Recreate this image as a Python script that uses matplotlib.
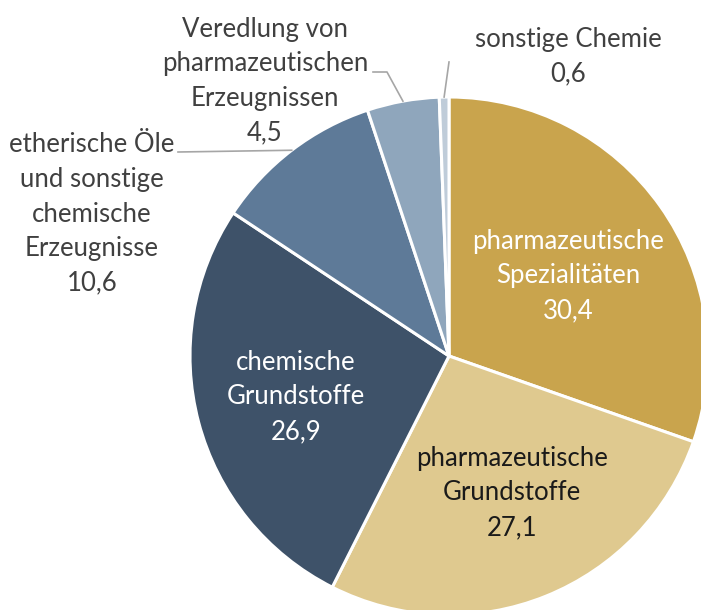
import numpy as np
import matplotlib.pyplot as plt

plt.rcParams['font.family'] = ['Lato', 'DejaVu Sans']

# Données
categories = ['pharmazeutische\nSpezialitäten', 'pharmazeutische\nGrundstoffe', 'chemische\nGrundstoffe',
              'etherische Öle\nund sonstige\nchemische\nErzeugnisse', 'Veredlung von\npharmazeutischen\nErzeugnissen',
              'sonstige Chemie']
valeurs = [30.4, 27.1, 26.9, 10.6, 4.5, 0.6]
couleurs = ['#C9A44D', '#DFC98F', '#3E5269', '#5E7A98', '#8FA6BC', '#BFCCD9']

W, H = 701, 610
cx, cy, r = 449, H - 356, 259

fig = plt.figure(figsize=(W / 100, H / 100), dpi=100)
ax = fig.add_axes([0, 0, 1, 1])

wedges, _ = ax.pie(valeurs, colors=couleurs, startangle=90, counterclock=False,
                   center=(cx, cy), radius=r, normalize=True,
                   wedgeprops=dict(edgecolor='white', linewidth=2.2))
ax.set_xlim(0, W)
ax.set_ylim(0, H)
ax.set_aspect('equal')
ax.axis('off')

def fmt(v):
    return f'{v:.1f}'.replace('.', ',')

taille = 18.5
esp = 1.48
# étiquettes à l'intérieur
interieur = {0: ((568, 276), 'white'), 1: ((512, 493), '#1A1A1A'), 2: ((296, 397), 'white')}
for i, ((x, y), c) in interieur.items():
    ax.text(x, H - y, categories[i] + '\n' + fmt(valeurs[i]), ha='center', va='center',
            fontsize=taille, color=c, linespacing=esp)

# étiquettes à l'extérieur
exterieur = {3: (92, 214), 4: (265, 81), 5: (568, 57)}
for i, (x, y) in exterieur.items():
    ax.text(x, H - y, categories[i] + '\n' + fmt(valeurs[i]), ha='center', va='center',
            fontsize=taille, color='#404040', linespacing=esp)

# lignes de rappel
gris = '#A6A6A6'
def point_bord(i):
    w = wedges[i]
    a = np.deg2rad((w.theta1 + w.theta2) / 2)
    return cx + r * np.cos(a), cy + r * np.sin(a)

x3, y3 = point_bord(3)
ax.plot([178, x3], [H - 152, y3], color=gris, lw=1.2)
x4, y4 = point_bord(4)
ax.plot([373, 387, x4], [H - 72, H - 72, y4], color=gris, lw=1.2)
x5, y5 = point_bord(5)
ax.plot([449, x5], [H - 62, y5], color=gris, lw=1.2)

fig.savefig('out.png', dpi=100)
